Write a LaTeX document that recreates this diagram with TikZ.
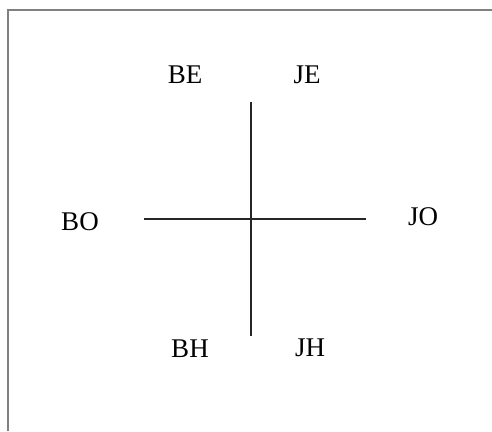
\documentclass[tikz,border=0pt]{standalone}
\usepackage{fontspec}
\setmainfont{Liberation Serif}

\tikzset{
    lbl/.style={font=\fontsize{27}{30}\selectfont, inner sep=0pt},
    axis/.style={line width=1.5pt, black!85}
}

\begin{document}
\begin{tikzpicture}[x=1pt, y=-1pt]
    \useasboundingbox (0,0) rectangle (492,431);

    % Frame (top and left only)
    \coordinate (tl) at (8,10);
    \coordinate (tr) at (492,10);
    \coordinate (bl) at (8,431);
    \draw[gray, line width=1.5pt] (bl) -- (tl) -- (tr);

    % Cross
    \coordinate (west) at (144,219);
    \coordinate (east) at (366,219);
    \coordinate (north) at (251,102);
    \coordinate (south) at (251,336);
    \draw[axis] (west) -- (east);
    \draw[axis] (north) -- (south);

    % Labels
    \node[lbl] (BE) at (185,75) {BE};
    \node[lbl] (JE) at (307,75) {JE};
    \node[lbl] (BO) at (80,222) {BO};
    \node[lbl] (JO) at (423,217) {JO};
    \node[lbl] (BH) at (190,349) {BH};
    \node[lbl] (JH) at (310,348) {JH};
\end{tikzpicture}
\end{document}
